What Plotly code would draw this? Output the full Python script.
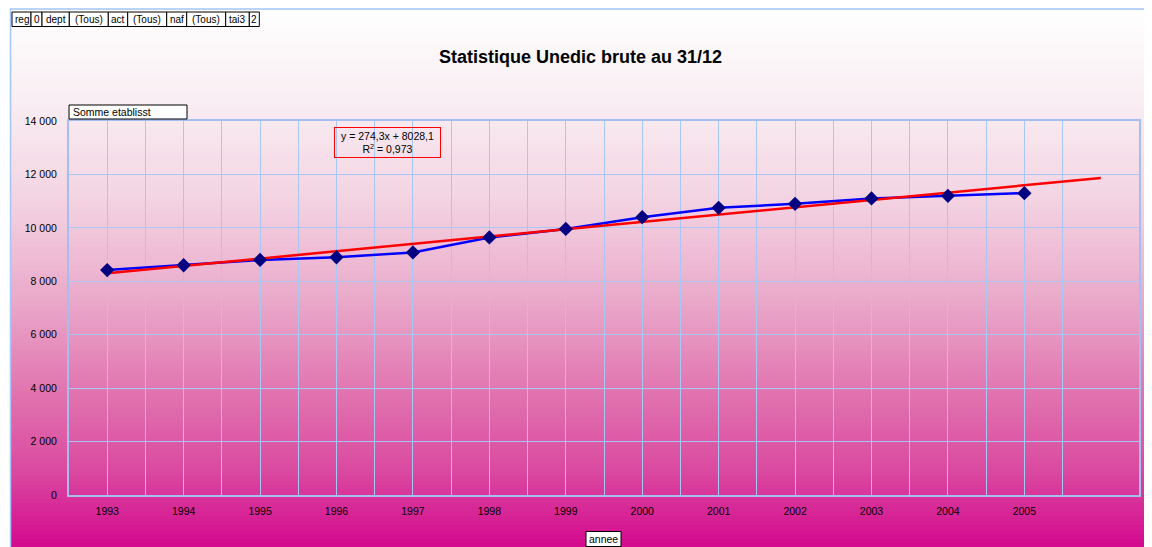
import base64
import plotly.graph_objects as go

# ---------------- data ----------------
years = ["1993", "1994", "1995", "1996", "1997", "1998", "1999",
         "2000", "2001", "2002", "2003", "2004", "2005"]
etablissements = [8420, 8600, 8800, 8900, 9080, 9640, 9960,
                  10400, 10750, 10900, 11100, 11200, 11300]
trend_slope = 274.3
trend_intercept = 8028.1
trend_r2 = 0.973
forecast_periods = 1
y_ticks = [0, 2000, 4000, 6000, 8000, 10000, 12000, 14000]

page_fields = ["reg", "0", "dept", "(Tous)", "act", "(Tous)", "naf", "(Tous)", "tai3", "2"]

title_text = "Statistique Unedic brute au 31/12"
y_field = "Somme etablisst"
x_field = "annee"

# ---------------- geometry helpers ----------------
# the page body has an 8px margin: the figure's origin sits at (8, 8) of the window
OX, OY = 8, 8
W, H = 1152 - OX, 547 - OY
PL, PR, PT, PB = 69, 1139, 121, 495          # plot area in window pixels
L, T = PL - OX, PT - OY
R, B = W - (PR - OX), H - (PB - OY)
PW, PH = PR - PL, PB - PT


def fx(px):
    return (px - PL) / PW


def fy(py):
    return (PB - py) / PH


x_idx = list(range(1, len(years) + 1))
trend_x = list(range(1, len(years) + 1 + forecast_periods))
trend_y = [trend_slope * x + trend_intercept for x in trend_x]

FONT = "Liberation Sans, Arial, sans-serif"
GRID = "#a7c8f4"
AXIS = "#a6bdf0"

fig = go.Figure()

fig.add_trace(go.Scatter(x=x_idx, y=etablissements, mode="lines",
                         line=dict(color="#0000ff", width=2.5),
                         hoverinfo="skip", showlegend=False))
fig.add_trace(go.Scatter(x=trend_x, y=trend_y, mode="lines",
                         line=dict(color="#ff0000", width=2.5),
                         hoverinfo="skip", showlegend=False))
fig.add_trace(go.Scatter(x=x_idx, y=etablissements, mode="markers",
                         marker=dict(symbol="diamond", color="#000080", size=11,
                                     line=dict(width=0)),
                         showlegend=False))

# ---------------- background gradient ----------------
top, bot = 9, 548
stops = [(9, (255, 255, 255)), (100, (249, 238, 243)), (200, (243, 211, 226)),
         (300, (234, 169, 202)), (400, (224, 112, 173)), (470, (218, 74, 160)),
         (548, (212, 8, 142))]


def col_at(py):
    for (y0, c0), (y1, c1) in zip(stops[:-1], stops[1:]):
        if y0 <= py <= y1:
            t = (py - y0) / (y1 - y0)
            c = [round(a + (b - a) * t) for a, b in zip(c0, c1)]
            return "rgb(%d,%d,%d)" % tuple(c)
    return "rgb(%d,%d,%d)" % stops[-1][1]


shapes = []
n = 120
for i in range(n):
    y0 = top + (bot - top) * i / n
    y1 = top + (bot - top) * (i + 1) / n
    shapes.append(dict(type="rect", xref="paper", yref="paper", layer="below",
                       x0=fx(10), x1=fx(1150), y0=fy(y1 + 1.5), y1=fy(y0),
                       line=dict(width=0), fillcolor=col_at((y0 + y1) / 2)))

# smooth gradient image on top of the strips
svg_stops = "".join(
    '<stop offset="%.4f" stop-color="rgb(%d,%d,%d)"/>' % (((y - top) / (bot - top),) + c)
    for y, c in stops)
svg = ('<svg xmlns="http://www.w3.org/2000/svg" width="100" height="100" '
       'preserveAspectRatio="none" viewBox="0 0 100 100">'
       '<defs><linearGradient id="g" x1="0" y1="0" x2="0" y2="1">' + svg_stops +
       '</linearGradient></defs><rect x="0" y="0" width="100" height="100" fill="url(#g)"/></svg>')
src = "data:image/svg+xml;base64," + base64.b64encode(svg.encode()).decode()
images = [dict(source=src, xref="paper", yref="paper", x=fx(10), y=fy(top),
               sizex=fx(1150) - fx(10), sizey=fy(top) - fy(bot),
               sizing="stretch", xanchor="left", yanchor="top", layer="below")]

# outer chart border
shapes.append(dict(type="rect", xref="paper", yref="paper", layer="above",
                   x0=fx(10.5), x1=fx(1150), y0=fy(560), y1=fy(9),
                   line=dict(color="#a2c6f6", width=1.5), fillcolor="rgba(0,0,0,0)"))

annotations = []

# page field buttons
edges = [12, 31, 42, 69.3, 108.3, 127.7, 166.7, 186.7, 225.7, 249.3, 259.3]
for i, lab in enumerate(page_fields):
    x0, x1 = edges[i], edges[i + 1]
    shapes.append(dict(type="rect", xref="paper", yref="paper", layer="above",
                       x0=fx(x0), x1=fx(x1), y0=fy(26.5), y1=fy(12),
                       line=dict(color="black", width=1), fillcolor="white"))
    annotations.append(dict(x=fx((x0 + x1) / 2), y=fy(19.5), xref="paper", yref="paper",
                            text=lab, showarrow=False, xanchor="center", yanchor="middle",
                            font=dict(family=FONT, size=10, color="black")))

# y field button
shapes.append(dict(type="rect", xref="paper", yref="paper", layer="above",
                   x0=fx(69), x1=fx(187), y0=fy(119), y1=fy(105),
                   line=dict(color="black", width=1), fillcolor="white"))
annotations.append(dict(x=fx(71), y=fy(112), xref="paper", yref="paper",
                        text=y_field, showarrow=False, xanchor="left", yanchor="middle",
                        font=dict(family=FONT, size=10.5, color="black")))

# x field button
shapes.append(dict(type="rect", xref="paper", yref="paper", layer="above",
                   x0=fx(586), x1=fx(621), y0=fy(546.5), y1=fy(531.5),
                   line=dict(color="black", width=1), fillcolor="white"))
annotations.append(dict(x=fx(603.5), y=fy(539), xref="paper", yref="paper",
                        text=x_field, showarrow=False, xanchor="center", yanchor="middle",
                        font=dict(family=FONT, size=10.5, color="black")))

# title
annotations.append(dict(x=fx(580), y=fy(57), xref="paper", yref="paper",
                        text="<b>" + title_text + "</b>", showarrow=False,
                        xanchor="center", yanchor="middle",
                        font=dict(family=FONT, size=18, color="black")))

# trendline equation
eq = "y = " + ("%.1f" % trend_slope).replace(".", ",") + "x + " + \
     ("%.1f" % trend_intercept).replace(".", ",")
r2 = "R<sup>2</sup> = " + ("%.3f" % trend_r2).replace(".", ",")
annotations.append(dict(x=fx(387.5), y=fy(142), xref="paper", yref="paper",
                        text=eq + "<br>" + r2, showarrow=False,
                        xanchor="center", yanchor="middle", align="center",
                        width=101, height=25, borderpad=2,
                        bordercolor="#ff0000", borderwidth=1,
                        font=dict(family=FONT, size=10.5, color="black")))

fig.update_layout(
    width=W, height=H,
    margin=dict(l=L, r=R, t=T, b=B, pad=0),
    paper_bgcolor="white",
    plot_bgcolor="rgba(0,0,0,0)",
    separators=", ",
    showlegend=False,
    shapes=shapes,
    images=images,
    annotations=annotations,
    font=dict(family=FONT, size=10, color="black"),
    xaxis=dict(range=[0.5, len(trend_x) + 0.5], tickmode="array",
               tickvals=x_idx, ticktext=years, showgrid=True, gridcolor=GRID,
               gridwidth=1, zeroline=False, showline=True, mirror=True,
               linecolor=AXIS, linewidth=2, ticks="", ticklabelstandoff=5,
               tickfont=dict(family=FONT, size=10.5, color="black"),
               minor=dict(tickmode="array",
                          tickvals=[i + 0.5 for i in range(0, len(trend_x) + 1)],
                          showgrid=True, gridcolor=GRID, gridwidth=1, ticks=""),
               fixedrange=True),
    yaxis=dict(range=[0, 14000], tickmode="array", tickvals=y_ticks,
               tickformat=",d", showgrid=True, gridcolor=GRID, gridwidth=1,
               zeroline=False, showline=True, mirror=True, linecolor=AXIS,
               linewidth=2, ticks="", ticklabelstandoff=8,
               tickfont=dict(family=FONT, size=10.5, color="black"),
               fixedrange=True),
)

fig.write_html("out.html")
